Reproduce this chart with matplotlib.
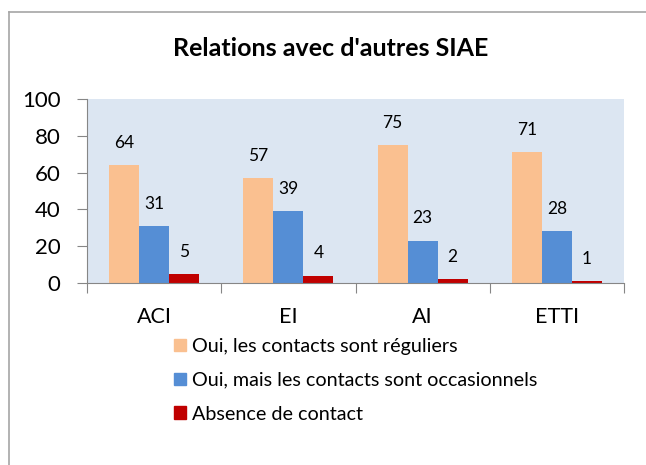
import numpy as np
import matplotlib
matplotlib.use('Agg')
import matplotlib.pyplot as plt
from matplotlib.lines import Line2D
from matplotlib.patches import Patch

plt.rcParams['font.family'] = ['Lato', 'DejaVu Sans']

# Data
categories = ['ACI', 'EI', 'AI', 'ETTI']
series_names = ['Oui, les contacts sont réguliers',
                'Oui, mais les contacts sont occasionnels',
                'Absence de contact']
reguliers = [64, 57, 75, 71]
occasionnels = [31, 39, 23, 28]
absence = [5, 4, 2, 1]
yticks = [0, 20, 40, 60, 80, 100]

colors = ['#FAC090', '#558ED5', '#C00000']

fig = plt.figure(figsize=(6.46, 4.65), dpi=100)
ax = fig.add_axes([87/646, 1-283/465, 537/646, 184/465])
ax.set_facecolor('#DCE6F2')

x = np.arange(len(categories)) + 0.5
w = 0.224
for i, vals in enumerate([reguliers, occasionnels, absence]):
    pos = x + (i - 1) * w
    ax.bar(pos, vals, width=w, color=colors[i], zorder=2)
    for p, v in zip(pos, vals):
        ax.annotate(str(v), (p, v), xytext=(0, 16), textcoords='offset points',
                    ha='center', va='center', fontsize=12.5)

ax.set_xlim(0, len(categories))
ax.set_ylim(0, 100)
ax.set_yticks(yticks)
ax.set_xticks(np.arange(len(categories) + 1))
ax.set_xticklabels([])
ax.set_xticks(x, minor=True)
ax.set_xticklabels(categories, minor=True)
ax.tick_params(axis='x', which='minor', length=0, pad=17, labelsize=15.5)
ax.tick_params(axis='x', which='major', length=7, color='#868686')
ax.tick_params(axis='y', length=7, color='#868686', labelsize=16, pad=12)

for s in ['top', 'right']:
    ax.spines[s].set_visible(False)
for s in ['left', 'bottom']:
    ax.spines[s].set_color('#868686')

fig.text(331/646, 1-49/465, "Relations avec d'autres SIAE", ha='center', va='center',
         fontsize=18, fontweight='bold')

handles = [Patch(color=c) for c in colors]
fig.legend(handles, series_names, loc='upper left', bbox_to_anchor=(166/646, 1-330/465),
           frameon=False, fontsize=14.2, handlelength=0.62, handleheight=0.62,
           handletextpad=0.3, labelspacing=0.86, borderaxespad=0)

# outer chart border
fig.add_artist(Line2D([9/646, 9/646], [0, 1-12/465], color='#A6A6A6', lw=1.2))
fig.add_artist(Line2D([9/646, 1], [1-12/465, 1-12/465], color='#A6A6A6', lw=1.2))

fig.savefig('out.png', dpi=100)
